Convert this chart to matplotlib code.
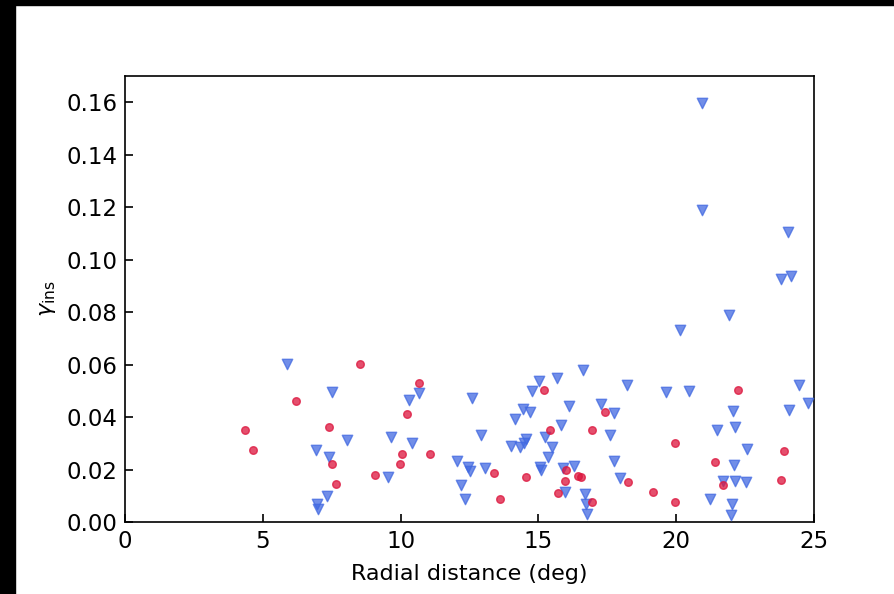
import matplotlib.pyplot as plt
from matplotlib.patches import Rectangle

# red circles
red_x = [4.35, 4.63, 6.20, 7.41, 7.50, 7.65, 8.53, 9.07, 9.98, 10.04,
         10.24, 10.67, 11.07, 13.39, 13.59, 14.54, 15.19, 15.42, 15.72, 15.99,
         15.98, 16.43, 16.53, 16.96, 16.96, 17.42, 18.24, 19.16, 19.97, 19.97,
         21.41, 21.71, 22.23, 23.80, 23.90]
red_y = [0.0350, 0.0275, 0.0463, 0.0361, 0.0222, 0.0144, 0.0604, 0.0181, 0.0220, 0.0261,
         0.0410, 0.0528, 0.0261, 0.0186, 0.0089, 0.0172, 0.0505, 0.0352, 0.0111, 0.0197,
         0.0158, 0.0176, 0.0170, 0.0075, 0.0352, 0.0419, 0.0152, 0.0116, 0.0303, 0.0077,
         0.0227, 0.0140, 0.0504, 0.0161, 0.0272]

# blue triangles
blue_x = [5.89, 6.92, 6.97, 6.99, 7.33, 7.39, 7.50, 8.07, 9.54, 9.66,
          10.29, 10.40, 10.67, 12.03, 12.19, 12.34, 12.45, 12.52, 12.58, 12.93,
          13.06, 14.01, 14.16, 14.33, 14.48, 14.54, 14.45, 14.70, 14.78, 15.01,
          15.06, 15.08, 15.24, 15.36, 15.49, 15.67, 15.81, 15.95, 15.90, 16.12,
          16.29, 16.61, 16.69, 16.72, 16.75, 17.26, 17.61, 17.74, 17.74, 17.95,
          18.21, 19.64, 20.14, 20.46, 20.95, 20.93, 21.23, 21.48, 21.69, 21.90,
          22.05, 22.12, 22.10, 22.12, 22.04, 21.99, 22.52, 22.56, 23.79, 24.05,
          24.15, 24.10, 24.46, 24.78]
blue_y = [0.0601, 0.0276, 0.0070, 0.0050, 0.0101, 0.0248, 0.0497, 0.0314, 0.0172, 0.0323,
          0.0466, 0.0302, 0.0492, 0.0234, 0.0142, 0.0086, 0.0210, 0.0196, 0.0472, 0.0331,
          0.0205, 0.0291, 0.0393, 0.0286, 0.0302, 0.0318, 0.0429, 0.0418, 0.0498, 0.0536,
          0.0210, 0.0197, 0.0325, 0.0247, 0.0285, 0.0549, 0.0368, 0.0114, 0.0206, 0.0444,
          0.0213, 0.0581, 0.0105, 0.0070, 0.0032, 0.0451, 0.0333, 0.0416, 0.0234, 0.0167,
          0.0523, 0.0494, 0.0733, 0.0501, 0.1598, 0.1188, 0.0088, 0.0352, 0.0158, 0.0789,
          0.0422, 0.0363, 0.0218, 0.0155, 0.0070, 0.0025, 0.0154, 0.0279, 0.0926, 0.1104,
          0.0939, 0.0426, 0.0523, 0.0455]

x_ticks = [0, 5, 10, 15, 20, 25]
y_ticks = [0.00, 0.02, 0.04, 0.06, 0.08, 0.10, 0.12, 0.14, 0.16]


def main():
    fig = plt.figure(figsize=(8.95, 5.94), dpi=100)
    ax = fig.add_axes([125 / 895, 72 / 594, 689 / 895, 446 / 594])

    ax.scatter(blue_x, blue_y, marker="v", s=56, color="royalblue",
               alpha=0.75, linewidths=1.0, zorder=3)
    ax.scatter(red_x, red_y, marker="o", s=30, color="crimson",
               alpha=0.75, linewidths=1.0, zorder=3)

    ax.set_xlim(0, 25)
    ax.set_ylim(0, 0.17)
    ax.set_xticks(x_ticks)
    ax.set_yticks(y_ticks)
    ax.set_yticklabels([f"{v:.2f}" for v in y_ticks])
    ax.tick_params(direction="in", length=6, width=1.2, labelsize=16.5, pad=5.5)
    for sp in ax.spines.values():
        sp.set_linewidth(1.2)

    ax.set_xlabel("Radial distance (deg)", fontsize=16, labelpad=8)
    ax.set_ylabel(r"$\gamma_{\rm ins}$", fontsize=16, labelpad=6)

    # dark frame edges seen in the screenshot
    fig.patches.append(Rectangle((0, 0), 15 / 895, 1, transform=fig.transFigure,
                                 color="black", zorder=-1))
    fig.patches.append(Rectangle((0, 1 - 5 / 594), 1, 5 / 594, transform=fig.transFigure,
                                 color="black", zorder=-1))

    fig.savefig("out.png", dpi=100)


main()
